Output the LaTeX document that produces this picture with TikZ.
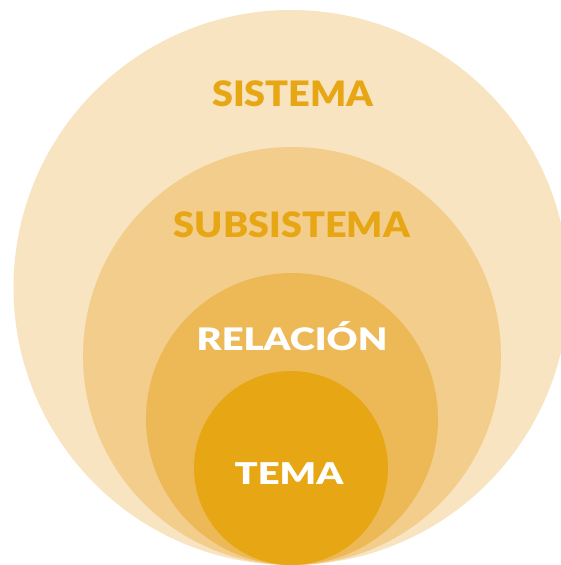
\documentclass[tikz,border=0pt]{standalone}
\usepackage{fontspec}
\setmainfont{Lato}[BoldFont={Lato Black}]
\definecolor{sistemac}{HTML}{F8E4C0}
\definecolor{subsisc}{HTML}{F3CD8B}
\definecolor{relac}{HTML}{EDB957}
\definecolor{temac}{HTML}{E7A614}
\begin{document}
\begin{tikzpicture}[x=1pt,y=-1pt,
    label/.style={font=\bfseries\fontsize{#1}{#1}\selectfont,inner sep=0pt,anchor=base}]
                \useasboundingbox (0,0) rectangle (561,565);
                \fill[sistemac] (291,287.5) circle[radius=277.5pt];
                \fill[subsisc] (292,356) circle[radius=209pt];
                \fill[relac] (292,419) circle[radius=146pt];
                \fill[temac] (291,468) circle[radius=97pt];
                \node[label=35,text=temac,xscale=1.08,transform shape] (sistema) at (293,106) {SISTEMA};
                \node[label=35,text=temac,xscale=1.08,transform shape] (subsistema) at (292,237) {SUBSISTEMA};
                \node[label=31,text=white,xscale=1.23,transform shape] (relacion) at (292,350) {RELACIÓN};
                \node[label=30,text=white,xscale=1.27,transform shape] (tema) at (289,484) {TEMA};
            \end{tikzpicture}
\end{document}
